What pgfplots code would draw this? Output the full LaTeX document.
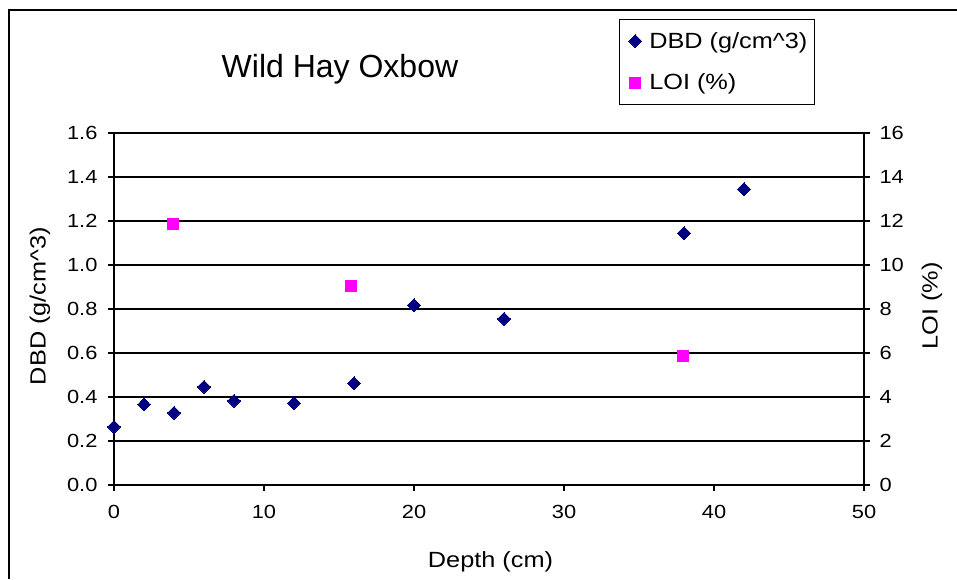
\documentclass[border=0pt]{standalone}
\usepackage{fontspec}
\setmainfont{Liberation Sans}[FakeStretch=1.15]
\newfontfamily\titlefont{Liberation Sans}
\usepackage{pgfplots}
\pgfplotsset{compat=1.18}
\definecolor{dbd}{RGB}{0,0,128}
\definecolor{loi}{RGB}{255,0,255}

\begin{document}
\begin{tikzpicture}[x=1pt,y=1pt]
  \path[use as bounding box] (0,0) rectangle (957,-579);
  \draw[line width=1.6pt] (9,-579) -- (9,-10) -- (957,-10);

  \pgfplotsset{
    every axis/.append style={
      scale only axis,
      width=750pt, height=352pt,
      at={(114pt,-485pt)}, anchor=south west,
      xmin=0, xmax=50, xtick={0,10,...,50},
      tick align=outside,
      major tick length=6pt,
      tick style={black, line width=1.1pt},
      axis line style={black, line width=1.3pt},
      /pgf/number format/assume math mode=true,
      tick label style={font=\fontsize{19}{21}\selectfont},
      label style={font=\fontsize{22}{24}\selectfont},
    },
  }

  \begin{axis}[
    axis x line*=bottom, axis y line*=left,
    ymin=0, ymax=1.6, ytick={0,0.2,...,1.6},
    yticklabel style={/pgf/number format/.cd, fixed, fixed zerofill, precision=1},
    xticklabel shift=11pt,
    yticklabel shift=7pt,
    ymajorgrids,
    grid style={black, line width=1.1pt},
    xlabel={Depth (cm)},
    ylabel={DBD (g/cm\^{}3)},
    x label style={at={(axis description cs:0.502,-0.233)}, anchor=base},
    y label style={at={(axis description cs:-0.0987,0.5085)}, anchor=center},
    clip=false,
    legend style={at={(axis description cs:0.673,1.324)}, anchor=north west,
      draw=black, line width=1pt, font=\fontsize{22}{24}\selectfont,
      row sep=20pt, inner xsep=5pt, inner ysep=11pt,
      cells={anchor=west}},
    legend cell align=left,
    legend image code/.code={
      \path[draw=none, fill=none] (0pt,-5pt) rectangle (23pt,5pt);
      \draw[#1] plot coordinates {(11pt,0pt)};
    },
  ]
    \addplot[only marks, mark=diamond*, mark size=6.5pt, color=dbd, fill=dbd,
      mark options={xscale=1.33, line width=0pt}] coordinates {
      (0, 0.264) (2, 0.366) (4, 0.328) (6, 0.446) (8, 0.382)
      (12, 0.372) (16, 0.462) (20, 0.818) (26, 0.755)
      (38, 1.145) (42, 1.345)
    };
    \addlegendentry{DBD (g/cm\^{}3)}
    \addlegendimage{only marks, mark=square*, mark size=5.5pt, color=loi, fill=loi}
    \addlegendentry{LOI (\%)}
    \node[font=\titlefont\fontsize{32}{34}\selectfont, anchor=base] at (axis description cs:0.3013,1.159) {Wild Hay Oxbow};
  \end{axis}

  \begin{axis}[
    axis x line=none, axis y line*=right,
    ymin=0, ymax=16, ytick={0,2,...,16},
    yticklabel shift=6pt,
    ylabel={LOI (\%)},
    y label style={at={(axis description cs:1.0907,0.5085)}, anchor=center, rotate=0},
  ]
    \addplot[only marks, mark=square*, mark size=5.5pt, color=loi, fill=loi] coordinates {
      (3.9, 11.9) (15.8, 9.05) (37.9, 5.9)
    };
  \end{axis}
\end{tikzpicture}
\end{document}
